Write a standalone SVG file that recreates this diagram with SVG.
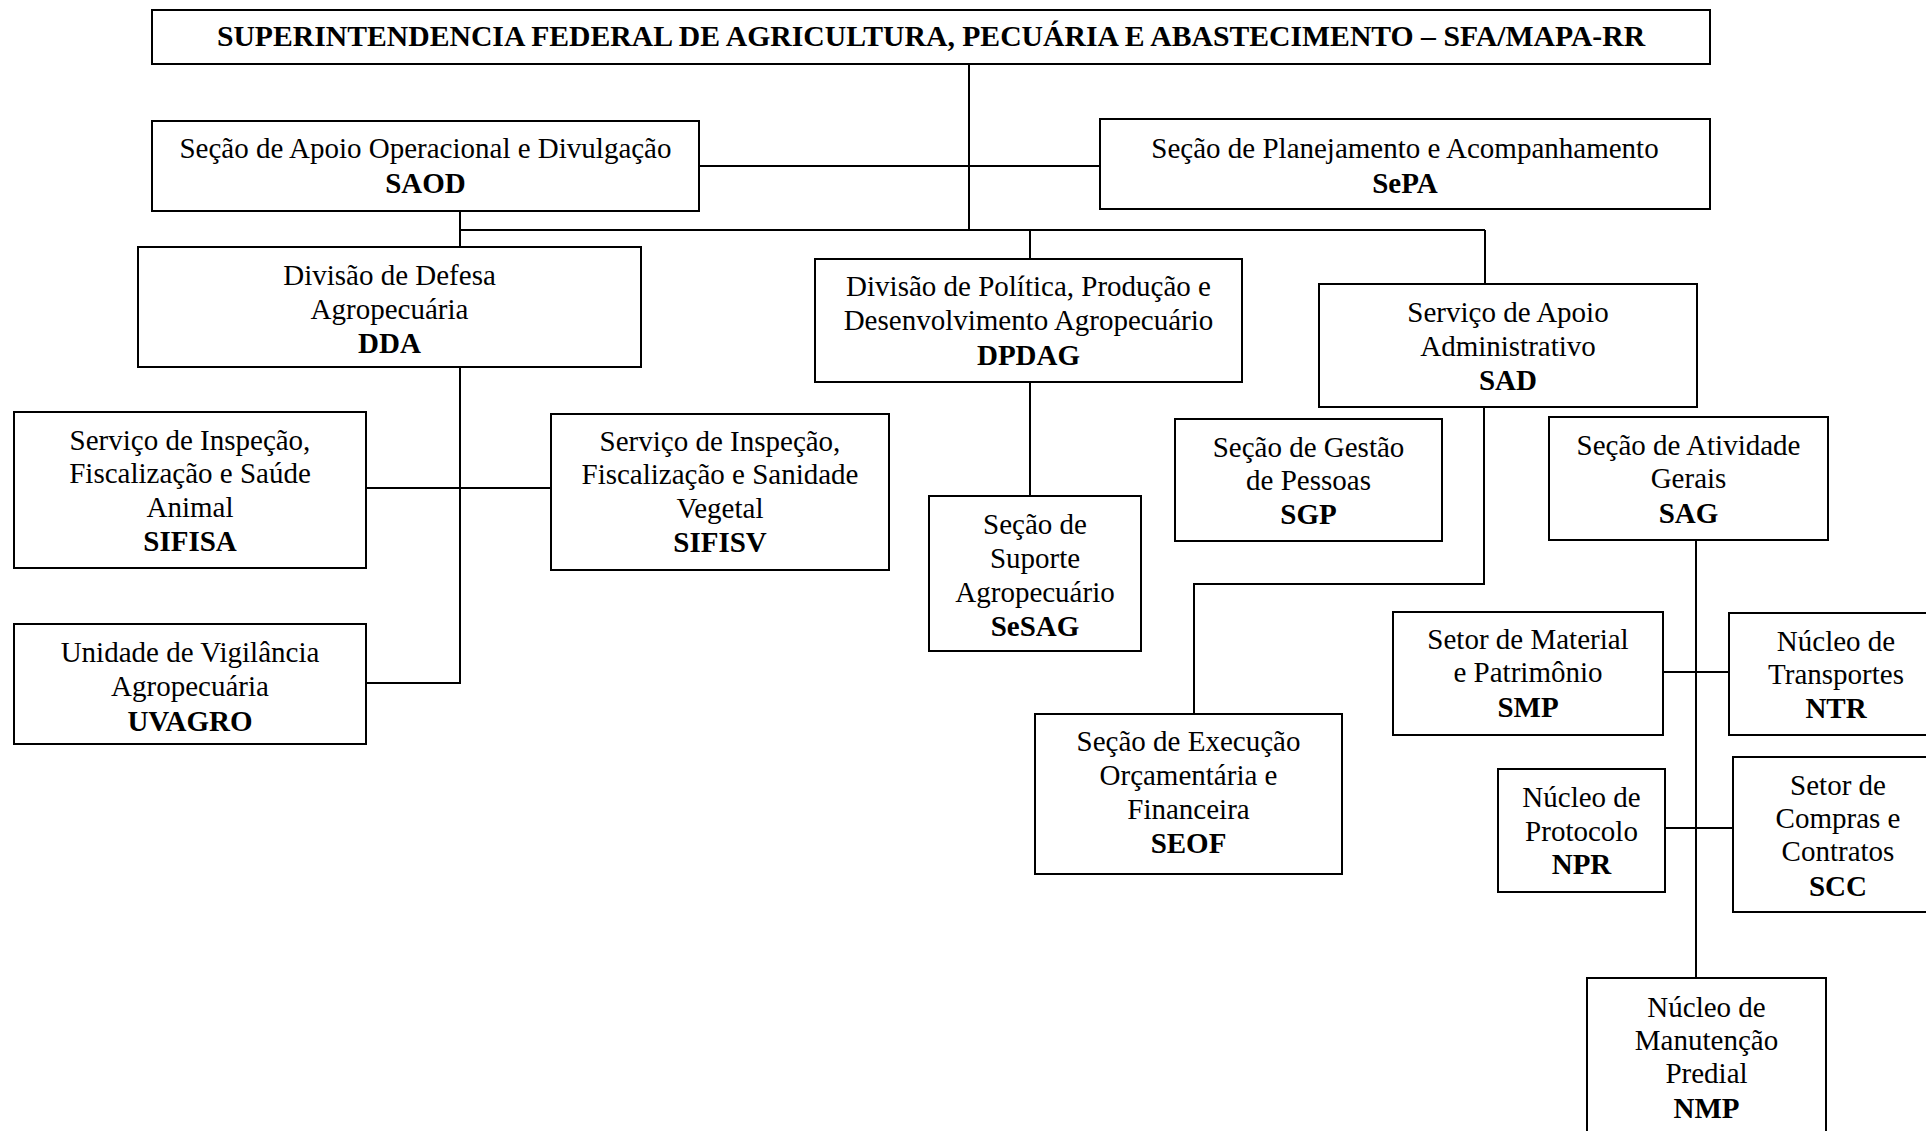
<svg xmlns="http://www.w3.org/2000/svg" width="1926" height="1131" viewBox="0 0 1926 1131">
<style>
.box{fill:#fff;stroke:#000;stroke-width:2}
.ln{fill:none;stroke:#000;stroke-width:2}
text{font-family:"Liberation Serif","Times New Roman",serif;font-size:29px;fill:#000;text-anchor:middle}
.b{font-weight:bold}
.t{font-size:29.7px}
</style>
<rect width="1926" height="1131" fill="#fff"/>
<g id="connectors">
<path class="ln" d="M969 64V230"/>
<path class="ln" d="M699 166H1100"/>
<path class="ln" d="M460 230H1485"/>
<path class="ln" d="M460 211V247"/>
<path class="ln" d="M1030 230V259"/>
<path class="ln" d="M1485 230V284"/>
<path class="ln" d="M460 367V683H366"/>
<path class="ln" d="M366 488H551"/>
<path class="ln" d="M1030 382V496"/>
<path class="ln" d="M1484 407V584H1194V714"/>
<path class="ln" d="M1696 540V978"/>
<path class="ln" d="M1663 672H1729"/>
<path class="ln" d="M1665 828H1733"/>
</g>
<g id="sfa">
<rect class="box" x="152" y="10" width="1558" height="54"/>
<text class="b t" x="931" y="46">SUPERINTENDENCIA FEDERAL DE AGRICULTURA, PECUÁRIA E ABASTECIMENTO – SFA/MAPA-RR</text>
</g>
<g id="saod">
<rect class="box" x="152" y="121" width="547" height="90"/>
<text x="425.5" y="158">Seção de Apoio Operacional e Divulgação</text>
<text class="b" x="425.5" y="193">SAOD</text>
</g>
<g id="sepa">
<rect class="box" x="1100" y="119" width="610" height="90"/>
<text x="1405" y="158">Seção de Planejamento e Acompanhamento</text>
<text class="b" x="1405" y="193">SePA</text>
</g>
<g id="dda">
<rect class="box" x="138" y="247" width="503" height="120"/>
<text x="389.5" y="285">Divisão de Defesa</text>
<text x="389.5" y="319">Agropecuária</text>
<text class="b" x="389.5" y="353">DDA</text>
</g>
<g id="dpdag">
<rect class="box" x="815" y="259" width="427" height="123"/>
<text x="1028.5" y="296">Divisão de Política, Produção e</text>
<text x="1028.5" y="330">Desenvolvimento Agropecuário</text>
<text class="b" x="1028.5" y="365">DPDAG</text>
</g>
<g id="sad">
<rect class="box" x="1319" y="284" width="378" height="123"/>
<text x="1508" y="322">Serviço de Apoio</text>
<text x="1508" y="356">Administrativo</text>
<text class="b" x="1508" y="390">SAD</text>
</g>
<g id="sifisa">
<rect class="box" x="14" y="412" width="352" height="156"/>
<text x="190" y="450">Serviço de Inspeção,</text>
<text x="190" y="483">Fiscalização e Saúde</text>
<text x="190" y="517">Animal</text>
<text class="b" x="190" y="551">SIFISA</text>
</g>
<g id="sifisv">
<rect class="box" x="551" y="414" width="338" height="156"/>
<text x="720" y="451">Serviço de Inspeção,</text>
<text x="720" y="484">Fiscalização e Sanidade</text>
<text x="720" y="518">Vegetal</text>
<text class="b" x="720" y="552">SIFISV</text>
</g>
<g id="uvagro">
<rect class="box" x="14" y="624" width="352" height="120"/>
<text x="190" y="662">Unidade de Vigilância</text>
<text x="190" y="696">Agropecuária</text>
<text class="b" x="190" y="731">UVAGRO</text>
</g>
<g id="sesag">
<rect class="box" x="929" y="496" width="212" height="155"/>
<text x="1035" y="534">Seção de</text>
<text x="1035" y="568">Suporte</text>
<text x="1035" y="602">Agropecuário</text>
<text class="b" x="1035" y="636">SeSAG</text>
</g>
<g id="sgp">
<rect class="box" x="1175" y="419" width="267" height="122"/>
<text x="1308.5" y="457">Seção de Gestão</text>
<text x="1308.5" y="490">de Pessoas</text>
<text class="b" x="1308.5" y="524">SGP</text>
</g>
<g id="sag">
<rect class="box" x="1549" y="417" width="279" height="123"/>
<text x="1688.5" y="455">Seção de Atividade</text>
<text x="1688.5" y="488">Gerais</text>
<text class="b" x="1688.5" y="523">SAG</text>
</g>
<g id="seof">
<rect class="box" x="1035" y="714" width="307" height="160"/>
<text x="1188.5" y="751">Seção de Execução</text>
<text x="1188.5" y="785">Orçamentária e</text>
<text x="1188.5" y="819">Financeira</text>
<text class="b" x="1188.5" y="853">SEOF</text>
</g>
<g id="smp">
<rect class="box" x="1393" y="612" width="270" height="123"/>
<text x="1528" y="649">Setor de Material</text>
<text x="1528" y="682">e Patrimônio</text>
<text class="b" x="1528" y="717">SMP</text>
</g>
<g id="ntr">
<rect class="box" x="1729" y="613" width="214" height="122"/>
<text x="1836" y="651">Núcleo de</text>
<text x="1836" y="684">Transportes</text>
<text class="b" x="1836" y="718">NTR</text>
</g>
<g id="npr">
<rect class="box" x="1498" y="769" width="167" height="123"/>
<text x="1581.5" y="807">Núcleo de</text>
<text x="1581.5" y="841">Protocolo</text>
<text class="b" x="1581.5" y="874">NPR</text>
</g>
<g id="scc">
<rect class="box" x="1733" y="757" width="210" height="155"/>
<text x="1838" y="795">Setor de</text>
<text x="1838" y="828">Compras e</text>
<text x="1838" y="861">Contratos</text>
<text class="b" x="1838" y="896">SCC</text>
</g>
<g id="nmp">
<rect class="box" x="1587" y="978" width="239" height="170"/>
<text x="1706.5" y="1017">Núcleo de</text>
<text x="1706.5" y="1050">Manutenção</text>
<text x="1706.5" y="1083">Predial</text>
<text class="b" x="1706.5" y="1118">NMP</text>
</g>
</svg>
